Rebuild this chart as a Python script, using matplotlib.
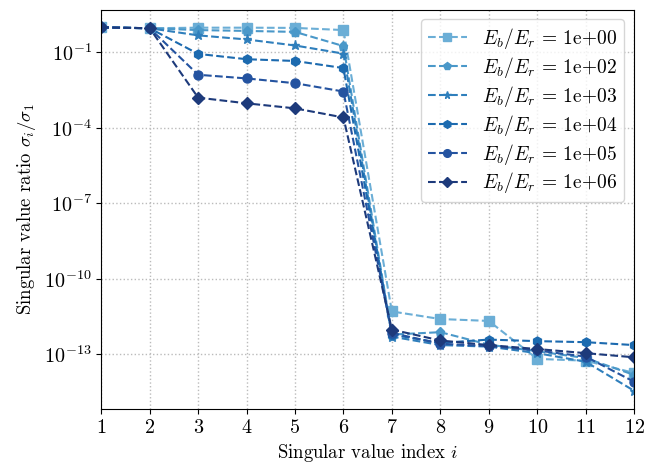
import matplotlib
matplotlib.use("Agg")
import matplotlib.pyplot as plt

plt.rcParams['font.family'] = 'serif'
plt.rcParams['font.serif'] = ['cmr10']
plt.rcParams['mathtext.fontset'] = 'cm'
plt.rcParams['axes.formatter.use_mathtext'] = True

# singular value index
idx = [1, 2, 3, 4, 5, 6, 7, 8, 9, 10, 11, 12]

# ratio sigma_i / sigma_1 for each stiffness ratio
s_1e0 = [1, 0.92, 0.97, 0.97, 0.95, 0.78, 5e-12, 2.5e-12, 2.1e-12, 6.5e-14, 5.5e-14, 1.8e-14]
s_1e2 = [1, 0.92, 0.78, 0.72, 0.66, 0.18, 6e-13, 7.5e-13, 2.4e-13, 1.3e-13, 7e-14, 1.5e-14]
s_1e3 = [1, 0.92, 0.48, 0.33, 0.19, 0.09, 5e-13, 2.3e-13, 2e-13, 1.1e-13, 5e-14, 3.5e-15]
s_1e4 = [1, 0.92, 0.088, 0.054, 0.046, 0.024, 6e-13, 2.8e-13, 3.8e-13, 3.3e-13, 3e-13, 2.3e-13]
s_1e5 = [1, 0.92, 0.013, 0.0093, 0.006, 0.0028, 7e-13, 2.6e-13, 2.1e-13, 1.4e-13, 8e-14, 8e-15]
s_1e6 = [1, 0.92, 1.6e-3, 9.5e-4, 6e-4, 2.6e-4, 9.5e-13, 3.5e-13, 2.3e-13, 1.6e-13, 1.1e-13, 7.5e-14]

labels = ['1e+00', '1e+02', '1e+03', '1e+04', '1e+05', '1e+06']
series = [s_1e0, s_1e2, s_1e3, s_1e4, s_1e5, s_1e6]
markers = ['s', 'p', '*', 'h', 'o', 'D']
colors = ['#6baed6', '#4a98c9', '#2f7fbc', '#1c6aaf', '#2453a0', '#1d3a7b']

fig = plt.figure(figsize=(6.45, 4.75), dpi=100)
ax = fig.add_axes([0.157, 0.139, 0.826, 0.841])

for vals, lab, m, c in zip(series, labels, markers, colors):
    ax.plot(idx, vals, linestyle='--', marker=m, color=c, lw=1.5, ms=6.5,
            label=r'$E_b/E_r$ = ' + lab)

ax.set_yscale('log')
ax.set_xlim(1, 12)
ax.set_ylim(10**-15.18, 10**0.71)
ax.set_xticks(idx)
ax.set_yticks([1e-13, 1e-10, 1e-7, 1e-4, 1e-1])
ax.minorticks_off()
ax.tick_params(labelsize=14.5)
ax.grid(True, linestyle=':', color='#bbbbbb', lw=1)

ax.set_xlabel(r'Singular value index $i$', fontsize=13.5)
ax.set_ylabel(r'Singular value ratio $\sigma_i/\sigma_1$', fontsize=13.5)
ax.legend(loc='upper right', fontsize=14, labelspacing=0.2, borderpad=0.35,
          markerscale=0.85)

fig.savefig('out.png', dpi=100)
